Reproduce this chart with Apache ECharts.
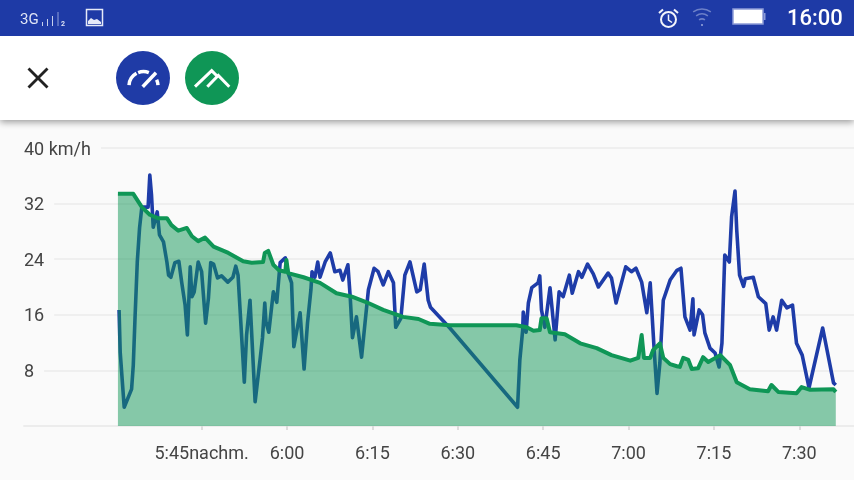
<!DOCTYPE html>
<html>
<head>
<meta charset="utf-8">
<title>Speed and altitude</title>
<style>
  html, body { margin: 0; padding: 0; background: #fafafa; }
  #chart { width: 854px; height: 480px; }
</style>
<script src="https://cdn.jsdelivr.net/npm/echarts@6/dist/echarts.min.js"></script>
</head>
<body>
<div id="chart"></div>
<script>
var speedMinutes = [0.5,0.7,1.4,2.7,3.0,3.3,3.7,4.1,4.5,5.6,5.9,6.2,6.5,6.8,7.2,7.6,8.3,8.9,9.2,9.6,10.3,11.0,11.5,12.1,12.5,13.0,13.3,13.7,14.4,15.0,15.7,16.2,16.6,17.1,17.8,18.5,19.6,20.5,21.0,21.4,22.5,22.9,23.5,24.4,25.3,25.7,26.1,26.3,26.8,27.6,28.2,28.8,29.7,30.2,30.8,31.2,32.3,33.0,33.6,34.2,34.4,34.9,35.4,35.8,36.7,37.6,38.4,39.3,39.8,40.7,41.1,41.5,42.2,43.1,43.7,44.3,45.3,46.0,46.9,47.8,48.7,49.1,50.0,50.7,51.6,52.8,53.4,54.1,54.8,55.2,58.6,70.5,70.9,71.4,71.5,72.0,72.4,73.0,74.1,74.4,74.7,75.3,76.2,77.1,77.8,78.5,79.6,80.1,81.2,81.8,82.8,83.8,84.7,86.4,87.0,87.8,89.5,90.5,91.3,92.3,93.2,93.8,94.5,95.0,95.5,96.1,97.3,98.5,99.2,99.9,100.8,101.3,101.5,102.4,103.0,103.4,104.3,105.2,105.9,106.4,106.9,107.7,108.1,108.7,109.0,109.5,110.2,110.5,111.9,112.8,114.1,114.7,115.4,116.0,116.9,117.8,118.8,119.5,120.5,121.7,124.1,126.0,126.4];
var speedKmh = [16.7,10.6,2.7,5.3,8.8,15.5,23.6,28.5,31.5,31.5,36.1,33.2,28.6,28.5,30.8,27.5,26.5,23.6,21.7,21.4,23.5,23.7,20.7,17.4,13.1,22.9,18.6,19.3,23.6,22.2,14.8,18.4,23.5,23.3,21.3,21.6,20.7,21.4,23.0,21.7,6.3,13.1,18.1,3.5,9.8,12.7,17.7,15.0,13.5,19.3,17.8,23.5,24.2,22.0,20.6,11.4,16.3,8.2,14.8,19.6,22.2,21.4,23.6,21.4,23.6,24.9,22.2,22.4,21.0,23.2,18.6,12.7,15.7,9.9,14.8,19.6,22.7,22.2,20.3,22.2,20.6,14.2,15.5,21.7,23.6,19.3,19.6,23.3,18.1,17.1,14.1,2.7,9.5,13.8,16.4,13.5,17.7,19.9,20.6,21.6,16.7,14.2,19.9,12.4,19.3,18.6,21.7,19.1,22.2,21.4,23.3,21.9,20.0,22.0,21.3,17.7,22.9,22.2,22.7,20.7,16.3,20.6,10.9,4.7,9.1,18.1,21.0,22.4,22.7,15.7,13.8,18.3,13.1,16.7,16.0,13.4,11.2,10.5,8.5,11.9,24.6,23.6,30.1,33.8,28.2,21.7,20.1,21.2,21.4,18.6,17.6,13.8,15.7,13.8,18.1,17.0,17.4,11.9,10.2,5.5,14.1,6.2,5.9];

var climbMinutes = [0.3,3.0,4.5,5.9,7.3,8.9,9.7,10.9,12.4,13.3,14.4,15.6,17.1,19.7,22.3,23.8,25.8,26.1,26.7,27.6,28.6,29.7,29.9,30.2,32.9,35.8,38.7,41.4,44.0,46.9,50.4,53.1,55.1,58.6,67.4,70.3,72.1,73.3,74.4,74.7,75.6,76.2,78.8,81.5,84.4,87.0,90.3,91.7,92.3,92.7,93.8,94.3,95.5,96.1,97.3,98.5,99.0,99.6,100.5,101.1,102.2,103.1,104.0,106.1,107.8,109.0,111.3,114.5,115.1,116.3,119.5,120.4,121.9,126.0,126.4];
var climbValues = [33.4,33.4,31.5,30.4,29.9,29.9,28.9,28.1,28.5,27.3,26.6,27.1,25.8,24.9,23.7,23.5,23.6,24.9,25.2,23.2,22.4,22.2,23.9,22.0,21.4,20.6,19.1,18.6,17.8,16.7,15.7,15.4,14.7,14.5,14.5,14.5,14.2,13.7,13.8,15.5,15.5,13.5,13.2,11.9,11.2,10.2,9.4,9.8,13.1,9.8,9.8,10.9,11.9,9.8,8.9,8.6,8.5,9.8,9.5,8.2,8.3,9.9,9.2,10.2,8.8,6.3,5.3,5.0,5.9,4.9,4.7,5.6,5.2,5.3,4.9];

var xTickValues = [15,30,45,60,75,90,105,120];
var xTickLabels = ["5:45nachm.","6:00","6:15","6:30","6:45","7:00","7:15","7:30"];
var yTickValues = [0,8,16,24,32,40];
var yTickLabels = ["","8","16","24","32","40 km/h"];

var BLUE = "#1e3ca8";
var GREEN = "#0f9656";
var TEXT = "#444444";

function zip(xs, ys) {
  var out = [];
  for (var i = 0; i < xs.length; i++) { out.push([xs[i], ys[i]]); }
  return out;
}

function stroke(color, width) {
  return { stroke: color, lineWidth: width, fill: null, lineCap: "butt" };
}

function line(x1, y1, x2, y2, color, width) {
  return { type: "line", shape: { x1: x1, y1: y1, x2: x2, y2: y2 }, style: stroke(color, width) };
}

function poly(points, color, width) {
  return { type: "polyline", shape: { points: points }, style: stroke(color, width) };
}

function arc(cx, cy, r, a0, a1, color, width) {
  return { type: "arc", shape: { cx: cx, cy: cy, r: r, startAngle: a0 * Math.PI, endAngle: a1 * Math.PI, clockwise: true }, style: stroke(color, width) };
}

// status bar and header, not part of the chart itself
var chrome = [
  { type: "rect", shape: { x: 0, y: 36, width: 854, height: 84 }, style: { fill: "#ffffff", shadowBlur: 7, shadowOffsetY: 2, shadowColor: "rgba(0,0,0,0.4)" } },
  { type: "rect", shape: { x: 0, y: 0, width: 854, height: 36 }, style: { fill: "#1e3aa6" } },

  { type: "text", style: { x: 20, y: 20, text: "3G", fill: "#dfe4f5", font: "15px Roboto", verticalAlign: "middle" } },
  line(42.5, 26, 42.5, 22, "#c6cfec", 1),
  line(47.5, 26, 47.5, 19, "#c6cfec", 1),
  line(52.5, 26, 52.5, 16, "#c6cfec", 1),
  line(58, 26, 58, 12, "#8f9fd8", 1),
  { type: "text", style: { x: 61, y: 24, text: "2", fill: "#dfe4f5", font: "bold 7px Roboto", verticalAlign: "middle" } },
  { type: "rect", shape: { x: 86.5, y: 9.5, width: 16, height: 16 }, style: stroke("#e6eaf8", 1.5) },
  { type: "polygon", shape: { points: [[88,24],[88,21],[91,18],[94,20],[97,19],[101,22],[101,24]] }, style: { fill: "#e6eaf8" } },

  { type: "circle", shape: { cx: 668.5, cy: 19.5, r: 7.5 }, style: stroke("#f2f4fb", 2) },
  poly([[668.5,14.5],[668.5,20],[672,22.5]], "#f2f4fb", 1.5),
  line(659, 13, 663, 9.5, "#f2f4fb", 2),
  line(674, 9.5, 678, 13, "#f2f4fb", 2),
  arc(702, 24, 15, 1.3, 1.7, "#6d80c8", 1.5),
  arc(702, 24, 10, 1.3, 1.7, "#6d80c8", 1.5),
  arc(702, 24, 5, 1.3, 1.7, "#6d80c8", 1.5),
  { type: "circle", shape: { cx: 702, cy: 25, r: 1 }, style: { fill: "#9aa8dc" } },
  { type: "rect", shape: { x: 733, y: 9, width: 30, height: 15 }, style: { fill: "#ffffff", stroke: "#8d9cd8", lineWidth: 1.5 } },
  { type: "rect", shape: { x: 764, y: 13, width: 1.5, height: 7 }, style: { fill: "#8d9cd8" } },
  { type: "text", style: { x: 787, y: 19, text: "16:00", fill: "#ffffff", font: "500 22px Roboto", verticalAlign: "middle" } },

  line(28.5, 68.5, 47.5, 87.5, "#222222", 2.8),
  line(47.5, 68.5, 28.5, 87.5, "#222222", 2.8),

  { type: "circle", shape: { cx: 143, cy: 78, r: 27 }, style: { fill: "#1f3ba6" } },
  arc(143.5, 86, 14.5, 1.02, 1.34, "#ffffff", 3.5),
  arc(143.5, 86, 14.5, 1.38, 1.62, "#ffffff", 3.5),
  arc(143.5, 86, 14.5, 1.86, 1.98, "#ffffff", 3.5),
  line(142.7, 86.7, 156, 72.7, "#ffffff", 3.5),

  { type: "circle", shape: { cx: 212, cy: 78, r: 27 }, style: { fill: "#0f9656" } },
  poly([[195,86.7],[211.7,70.7],[218,77]], "#ffffff", 3),
  poly([[207.3,86.7],[218.3,75.5],[229.3,86.7]], "#ffffff", 3)
];

var chart = echarts.init(document.getElementById("chart"));
chart.setOption({
  animation: false,
  backgroundColor: "#fafafa",
  grid: { left: 24, right: 0, top: 148, bottom: 54 },
  xAxis: {
    type: "value",
    min: -16.2,
    max: 129.6,
    splitLine: { show: false },
    axisLine: { show: true, onZero: false, lineStyle: { color: "#ececec", width: 2 } },
    axisTick: { show: true, customValues: xTickValues, length: 4, lineStyle: { color: "#dddddd", width: 2 } },
    axisLabel: {
      customValues: xTickValues,
      color: TEXT,
      fontFamily: "Roboto",
      fontSize: 18,
      margin: 19,
      formatter: function(v) { return xTickLabels[xTickValues.indexOf(v)]; }
    }
  },
  yAxis: {
    type: "value",
    min: 0,
    max: 40,
    interval: 8,
    axisLine: { show: false },
    axisTick: { show: false },
    splitLine: { show: true, lineStyle: { color: "#efefef", width: 2 } },
    axisLabel: {
      inside: true,
      margin: 0,
      showMinLabel: true,
      // rich token so the mask behind the text skips the empty label at 0
      formatter: function(v) {
        var label = yTickLabels[yTickValues.indexOf(v)];
        return label ? "{t|" + label + "}" : "";
      },
      rich: {
        t: {
          color: TEXT,
          fontFamily: "Roboto",
          fontSize: 18,
          backgroundColor: "#fafafa",
          padding: [4, 10, 0, 0]
        }
      }
    }
  },
  series: [
    {
      type: "line",
      name: "speed",
      z: 2,
      data: zip(speedMinutes, speedKmh),
      showSymbol: false,
      lineStyle: { color: BLUE, width: 3.6, join: "round" }
    },
    {
      type: "line",
      name: "altitude",
      z: 3,
      data: zip(climbMinutes, climbValues),
      showSymbol: false,
      lineStyle: { color: GREEN, width: 4, join: "round" },
      areaStyle: { color: GREEN, opacity: 0.5 }
    }
  ],
  graphic: { elements: [{ type: "group", z: 100, silent: true, children: chrome }] }
});
</script>
</body>
</html>
